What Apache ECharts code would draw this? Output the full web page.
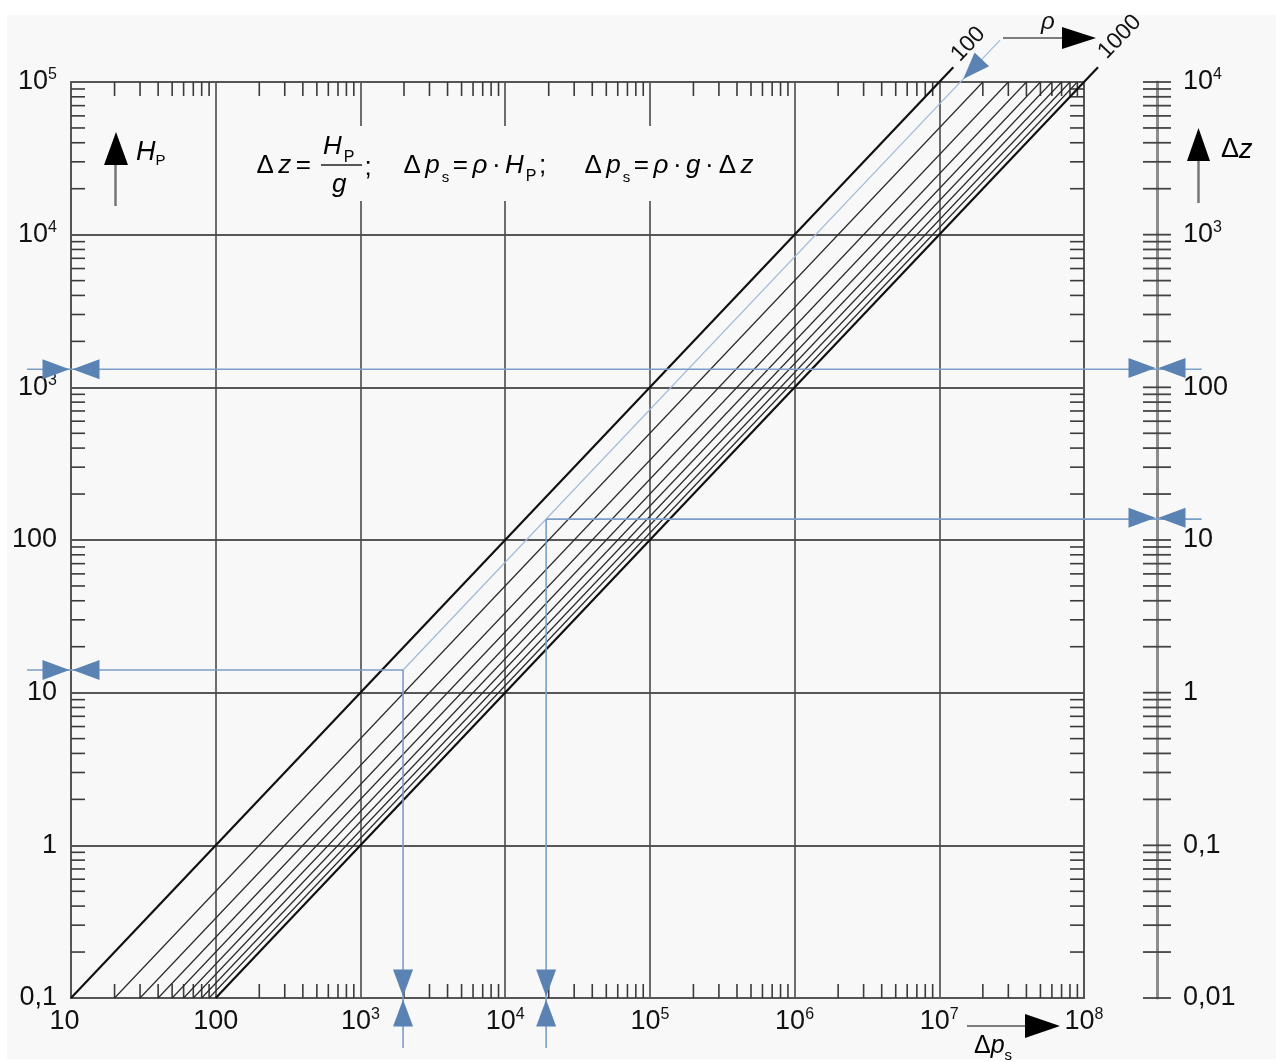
<!DOCTYPE html>
<html><head><meta charset="utf-8">
<script src="https://cdn.jsdelivr.net/npm/echarts@6/dist/echarts.min.js"></script>
<style>
html,body{margin:0;padding:0;background:#fff}
#panel{position:absolute;left:7px;top:15px;width:1269px;height:1044px;background:#f8f8f8}
#c{position:absolute;left:0;top:0;width:1276px;height:1062px}
</style>
</head><body><div id="panel"></div><div id="c"></div>
<script>
// ---------------- data ----------------
const rhoValues      = [100, 200, 300, 400, 500, 600, 700, 800, 900, 1000];
const rhoLineStartDp = [10, 20, 30, 40, 50, 60, 70, 80, 90, 100];            // Δp_s at H_P = 0.1
const rhoLineEndDp   = [1e7, 2e7, 3e7, 4e7, 5e7, 6e7, 7e7, 8e7, 9e7, 1e8];  // Δp_s at H_P = 1e5
const lineStartH = 0.1, lineEndH = 1e5;
const thickRho   = [100, 1000];
const thickExtDp = [1.25e7, 1.25e8];
const thickExtH  = 1.25e5;

const xDecades    = [10, 100, 1e3, 1e4, 1e5, 1e6, 1e7, 1e8];
const xTickLabels = ['10', '100', '10^3', '10^4', '10^5', '10^6', '10^7', '10^8'];
const yDecades    = [0.1, 1, 10, 100, 1e3, 1e4, 1e5];
const yTickLabels = ['0,1', '1', '10', '100', '10^3', '10^4', '10^5'];
const dzDecades    = [0.01, 0.1, 1, 10, 100, 1e3, 1e4];
const dzTickLabels = ['0,01', '0,1', '1', '10', '100', '10^3', '10^4'];
const minorSteps = [2, 3, 4, 5, 6, 7, 8, 9];

// worked example (ρ ≈ 140)
const exampleDiag = [[1970, 14.07], [2.63e7, 1.88e5]];
const exampleA = [[4.97, 14.07], [1970, 14.07], [1970, 0.047]];
const exampleB = [[4.97, 1315], [6.5e8, 1315]];
const exampleC = [[6.5e8, 137], [19200, 137], [19200, 0.047]];
const exampleDz = [134, 14];
const exampleH  = [14.07, 1315];
const exampleDp = [1970, 19200];
const diagArrowPoint = [1.44e7, 1.03e5];

// ---------------- style constants ----------------
const FONT = 'Liberation Sans';
const BLUE = '#5a83b3';
const BLUE_LINE = '#7b9ec8';
const TICK = 14;
const DZ_OFFSET = 73;

function richLabel(str, first) {
  const m = str.match(/^(.*)\^(.*)$/);
  if (m) return '{b|' + m[1] + '}{s|' + m[2] + '}';
  return (first ? '{f|' : '{b|') + str + '}';
}
function makeFormatter(decades, labels, shiftFirst) {
  return function (v) {
    const e = Math.round(Math.log10(v));
    const i = decades.findIndex(d => Math.round(Math.log10(d)) === e);
    return i < 0 ? '' : richLabel(labels[i], shiftFirst && i === 0);
  };
}
const tickRich = {
  b: { fontSize: 27, fontFamily: FONT, color: '#111', lineHeight: 30 },
  f: { fontSize: 27, fontFamily: FONT, color: '#111', lineHeight: 30, padding: [0, 13, 0, 0] },
  s: { fontSize: 16, fontFamily: FONT, color: '#111', lineHeight: 18, verticalAlign: 'top' }
};

function minorValues(decades) {
  const out = [];
  for (let i = 0; i < decades.length - 1; i++) for (const s of minorSteps) out.push(decades[i] * s);
  return out;
}
const xMinor = minorValues(xDecades);
const yMinor = minorValues(yDecades);
const dzAll = minorValues(dzDecades).concat(dzDecades);

const tickData = [];
xMinor.forEach(v => { tickData.push([v, lineStartH, 0]); tickData.push([v, lineEndH, 1]); });
yMinor.forEach(v => { tickData.push([xDecades[0], v, 2]); tickData.push([xDecades[xDecades.length - 1], v, 3]); });
const dzTickData = dzAll.map(v => [xDecades[xDecades.length - 1], v, 4]);

function tickRender(offsetX, color, width) {
  return function (params, api) {
    const p = api.coord([api.value(0), api.value(1)]);
    const k = api.value(2);
    const x = p[0] + offsetX, y = p[1];
    let shape;
    if (k === 0) shape = { x1: x, y1: y, x2: x, y2: y - TICK };
    else if (k === 1) shape = { x1: x, y1: y, x2: x, y2: y + TICK };
    else if (k === 2) shape = { x1: x, y1: y, x2: x + TICK, y2: y };
    else if (k === 3) shape = { x1: x, y1: y, x2: x - TICK, y2: y };
    else shape = { x1: x - TICK, y1: y, x2: x + TICK, y2: y };
    return { type: 'line', shape: shape, style: { stroke: color, lineWidth: width } };
  };
}

function arrowRender(offsetX) {
  return function (params, api) {
    const p = api.coord([api.value(0), api.value(1)]);
    const ang = api.value(2) * Math.PI / 180;
    const L = 27, W = 10, gap = 1.5;
    const dx = Math.cos(ang), dy = Math.sin(ang);
    const tx = p[0] + offsetX - gap * dx, ty = p[1] - gap * dy;
    const bx = tx - L * dx, by = ty - L * dy;
    return {
      type: 'polygon',
      shape: { points: [[tx, ty], [bx - W * dy, by + W * dx], [bx + W * dy, by - W * dx]] },
      style: { fill: BLUE }
    };
  };
}

// segments [x1, y1, x2, y2, styleIndex]
const segStyles = [
  { stroke: '#9fb9da', lineWidth: 1.2 },
  { stroke: BLUE_LINE, lineWidth: 1.6 },
  { stroke: '#111', lineWidth: 2.2 }
];
const segData = [];
function addPath(path, styleIdx) {
  for (let i = 0; i < path.length - 1; i++)
    segData.push([path[i][0], path[i][1], path[i + 1][0], path[i + 1][1], styleIdx]);
}
addPath(exampleDiag, 0);
addPath(exampleA, 1);
addPath(exampleB, 1);
addPath(exampleC, 1);
thickRho.forEach((rho, k) => {
  const i = rhoValues.indexOf(rho);
  addPath([[rhoLineEndDp[i], lineEndH], [thickExtDp[k], thickExtH]], 2);
});
function segRender(params, api) {
  const a = api.coord([api.value(0), api.value(1)]);
  const b = api.coord([api.value(2), api.value(3)]);
  return { type: 'line', shape: { x1: a[0], y1: a[1], x2: b[0], y2: b[1] },
    style: Object.assign({ lineCap: 'butt' }, segStyles[api.value(4)]) };
}

const arrowData = [];
exampleH.forEach(h => { arrowData.push([xDecades[0], h, 0]); arrowData.push([xDecades[0], h, 180]); });
exampleDp.forEach(d => { arrowData.push([d, lineStartH, 90]); arrowData.push([d, lineStartH, 270]); });
arrowData.push([diagArrowPoint[0], diagArrowPoint[1], 133.5]);
const dzArrowData = [];
exampleDz.forEach(z => { dzArrowData.push([xDecades[xDecades.length - 1], z, 0]); dzArrowData.push([xDecades[xDecades.length - 1], z, 180]); });

// ---------------- series ----------------
const series = [];
rhoValues.forEach((rho, i) => {
  const thick = thickRho.indexOf(rho) >= 0;
  series.push({
    type: 'line', name: 'rho' + rho,
    data: [[rhoLineStartDp[i], lineStartH], [rhoLineEndDp[i], lineEndH]],
    showSymbol: false, symbol: 'none', clip: false, silent: true, z: thick ? 4 : 3,
    lineStyle: { color: thick ? '#111' : '#2a2a2a', width: thick ? 2.2 : 1.2 }
  });
});
series.push({ type: 'custom', data: segData, renderItem: segRender, clip: false, silent: true, z: 5,
  encode: { x: [0, 2], y: [1, 3] } });
series.push({ type: 'custom', data: tickData, renderItem: tickRender(0, '#3a3a3a', 1.6), clip: false, silent: true, z: 3,
  encode: { x: 0, y: 1 } });
series.push({ type: 'custom', data: dzTickData, xAxisIndex: 0, yAxisIndex: 2, renderItem: tickRender(DZ_OFFSET, '#444', 1.8),
  clip: false, silent: true, z: 3, encode: { x: 0, y: 1 } });
series.push({ type: 'custom', data: arrowData, renderItem: arrowRender(0), clip: false, silent: true, z: 6,
  encode: { x: 0, y: 1 } });
series.push({ type: 'custom', data: dzArrowData, xAxisIndex: 0, yAxisIndex: 2, renderItem: arrowRender(DZ_OFFSET),
  clip: false, silent: true, z: 6, encode: { x: 0, y: 1 } });

const borderLine = { show: true, onZero: false, lineStyle: { color: '#555', width: 2 } };

const option = {
  animation: false,
  backgroundColor: 'transparent',
  grid: { left: 71, top: 82, right: 192, bottom: 64, containLabel: false },
  xAxis: [
    { type: 'log', logBase: 10, min: 10, max: 1e8, position: 'bottom', axisLine: borderLine,
      axisTick: { show: false },
      splitLine: { show: true, lineStyle: { color: '#4a4a4a', width: 1.6 } },
      axisLabel: { show: true, interval: 0, showMinLabel: true, showMaxLabel: true, margin: 9,
        formatter: makeFormatter(xDecades, xTickLabels, true), rich: tickRich } },
    { type: 'log', logBase: 10, min: 10, max: 1e8, position: 'top', axisLine: borderLine,
      axisTick: { show: false }, splitLine: { show: false }, axisLabel: { show: false } }
  ],
  yAxis: [
    { type: 'log', logBase: 10, min: 0.1, max: 1e5, position: 'left', axisLine: borderLine,
      axisTick: { show: false },
      splitLine: { show: true, lineStyle: { color: '#222', width: 1.5 } },
      axisLabel: { show: true, interval: 0, showMinLabel: true, showMaxLabel: true, margin: 14,
        formatter: makeFormatter(yDecades, yTickLabels, false), rich: tickRich } },
    { type: 'log', logBase: 10, min: 0.1, max: 1e5, position: 'right', axisLine: borderLine,
      axisTick: { show: false }, splitLine: { show: false }, axisLabel: { show: false } },
    { type: 'log', logBase: 10, min: 0.01, max: 1e4, position: 'right', offset: DZ_OFFSET,
      axisLine: { show: true, onZero: false, lineStyle: { color: '#8c8c8c', width: 3 } },
      axisTick: { show: false }, splitLine: { show: false },
      axisLabel: { show: true, interval: 0, showMinLabel: true, showMaxLabel: true, margin: 26,
        formatter: makeFormatter(dzDecades, dzTickLabels, false), rich: tickRich } }
  ],
  series: series
};

const chart = echarts.init(document.getElementById('c'), null, { renderer: 'canvas' });
chart.setOption(option);

// ---------------- annotations ----------------
const FS = 26;
const formulaRich = {
  u: { fontSize: FS, fontFamily: FONT, color: '#111', lineHeight: 38, padding: [0, 2.5, 0, 2.5] },
  i: { fontSize: FS, fontFamily: FONT, color: '#111', lineHeight: 38, fontStyle: 'italic', padding: [0, 2, 0, 2] },
  s: { fontSize: 15, fontFamily: FONT, color: '#111', lineHeight: 13, verticalAlign: 'bottom', padding: [0, 1, 0, 0] },
  P: { fontSize: 16, fontFamily: FONT, color: '#111', lineHeight: 30, verticalAlign: 'bottom' }
};
const graphics = [];
// formula mask
graphics.push({ type: 'rect', z: 50, shape: { x: 250, y: 126, width: 520, height: 75 }, style: { fill: '#f8f8f8' } });
graphics.push({ type: 'text', z: 51, style: { x: 254, y: 166, verticalAlign: 'middle', text: '{u|Δ}{i|z}{u|=}', rich: formulaRich } });
graphics.push({ type: 'text', z: 51, style: { x: 321, y: 147, verticalAlign: 'middle', text: '{i|H}{P|P}', rich: formulaRich } });
graphics.push({ type: 'line', z: 51, shape: { x1: 321, y1: 165, x2: 362, y2: 165 }, style: { stroke: '#222', lineWidth: 1.5 } });
graphics.push({ type: 'text', z: 51, style: { x: 330, y: 185, verticalAlign: 'middle', text: '{i|g}', rich: formulaRich } });
graphics.push({ type: 'text', z: 51, style: { x: 362, y: 168, verticalAlign: 'middle', text: '{u|;}', rich: formulaRich } });
graphics.push({ type: 'text', z: 51, style: { x: 401, y: 166, verticalAlign: 'middle',
  text: '{u|Δ}{i|p}{s|s}{u|=}{i|ρ}{u|·}{i|H}{P|P}{u|;}', rich: formulaRich } });
graphics.push({ type: 'text', z: 51, style: { x: 582, y: 166, verticalAlign: 'middle',
  text: '{u|Δ}{i|p}{s|s}{u|=}{i|ρ}{u|·}{i|g}{u|·}{u|Δ}{i|z}', rich: formulaRich } });

// H_P axis title with arrow
graphics.push({ type: 'line', z: 51, shape: { x1: 115.5, y1: 206, x2: 115.5, y2: 160 }, style: { stroke: '#777', lineWidth: 2.5 } });
graphics.push({ type: 'polygon', z: 52, shape: { points: [[104, 165], [128, 165], [116, 132]] }, style: { fill: '#000' } });
graphics.push({ type: 'text', z: 51, style: { x: 136, y: 152, verticalAlign: 'middle', text: '{i|H}{p|P}', rich: {
  i: { fontSize: 27, fontFamily: FONT, fontStyle: 'italic', color: '#111', lineHeight: 32 },
  p: { fontSize: 15, fontFamily: FONT, color: '#111', lineHeight: 23, verticalAlign: 'bottom' } } } });

// Δz axis title with arrow
graphics.push({ type: 'line', z: 51, shape: { x1: 1198.5, y1: 203, x2: 1198.5, y2: 156 }, style: { stroke: '#777', lineWidth: 2.5 } });
graphics.push({ type: 'polygon', z: 52, shape: { points: [[1187, 161], [1210, 161], [1198.5, 128]] }, style: { fill: '#000' } });
graphics.push({ type: 'text', z: 51, style: { x: 1221, y: 150, verticalAlign: 'middle', text: '{u|Δ}{i|z}', rich: {
  u: { fontSize: 27, fontFamily: FONT, color: '#111', lineHeight: 32 },
  i: { fontSize: 27, fontFamily: FONT, fontStyle: 'italic', color: '#111', lineHeight: 32 } } } });

// Δp_s axis title with arrow
graphics.push({ type: 'line', z: 51, shape: { x1: 967, y1: 1026, x2: 1030, y2: 1026 }, style: { stroke: '#555', lineWidth: 1.5 } });
graphics.push({ type: 'polygon', z: 52, shape: { points: [[1025, 1014], [1025, 1038], [1060, 1026]] }, style: { fill: '#000' } });
graphics.push({ type: 'text', z: 51, style: { x: 974, y: 1046, verticalAlign: 'middle', text: '{u|Δ}{i|p}{s|s}', rich: {
  u: { fontSize: 25, fontFamily: FONT, color: '#111', lineHeight: 34 },
  i: { fontSize: 25, fontFamily: FONT, fontStyle: 'italic', color: '#111', lineHeight: 34 },
  s: { fontSize: 15, fontFamily: FONT, color: '#111', lineHeight: 12, verticalAlign: 'bottom' } } } });

// ρ title with arrow
graphics.push({ type: 'line', z: 51, shape: { x1: 1003, y1: 38, x2: 1066, y2: 38 }, style: { stroke: '#555', lineWidth: 1.5 } });
graphics.push({ type: 'polygon', z: 52, shape: { points: [[1062, 27], [1062, 49], [1096, 38]] }, style: { fill: '#000' } });
graphics.push({ type: 'text', z: 51, style: { x: 1041, y: 22, verticalAlign: 'middle', text: 'ρ',
  font: 'italic 24px "Liberation Sans"', fill: '#111' } });

// labels "100" / "1000" at the ends of the thick ρ lines
const labelAlong = [27, 37];
thickRho.forEach((rho, k) => {
  const i = rhoValues.indexOf(rho);
  const pEnd = chart.convertToPixel({ xAxisIndex: 0, yAxisIndex: 0 }, [rhoLineEndDp[i], lineEndH]);
  const pExt = chart.convertToPixel({ xAxisIndex: 0, yAxisIndex: 0 }, [thickExtDp[k], thickExtH]);
  let dx = pExt[0] - pEnd[0], dy = pExt[1] - pEnd[1];
  const len = Math.hypot(dx, dy); dx /= len; dy /= len;
  const cx = pExt[0] + dx * labelAlong[k] + dy * 5;
  const cy = pExt[1] + dy * labelAlong[k] - dx * 5;
  graphics.push({ type: 'text', z: 51, x: cx, y: cy, rotation: Math.atan2(-dy, dx),
    style: { x: 0, y: 0, align: 'center', verticalAlign: 'middle', text: String(rho),
      font: '23px "Liberation Sans"', fill: '#111' } });
});

chart.setOption({ graphic: { elements: graphics } });
</script>
</body></html>
